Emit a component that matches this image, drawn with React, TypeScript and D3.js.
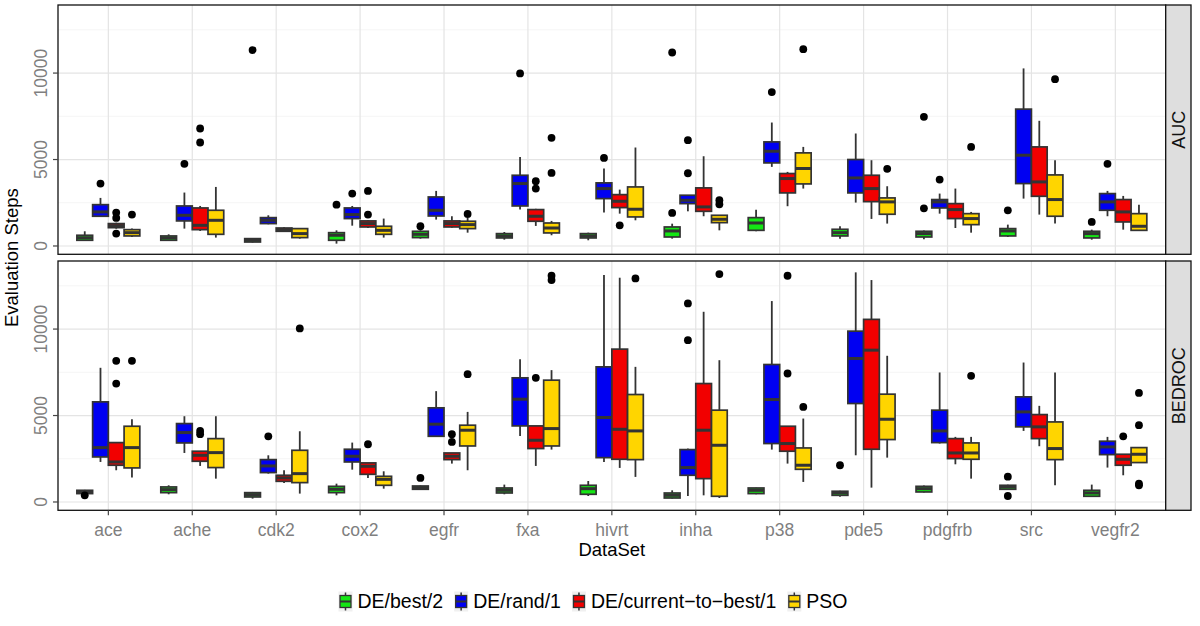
import React, { useRef, useEffect } from 'react';
import * as d3 from 'd3';

const datasets = ['ace', 'ache', 'cdk2', 'cox2', 'egfr', 'fxa', 'hivrt', 'inha', 'p38', 'pde5', 'pdgfrb', 'src', 'vegfr2'];
const methods = ['DE/best/2', 'DE/rand/1', 'DE/current\u2212to\u2212best/1', 'PSO'];
const fills = ['#14e614', '#0000f2', '#f20000', '#ffd500'];
const facets = ['AUC', 'BEDROC'];
const yTicks = [0, 5000, 10000];
const yMinor = [2500, 7500, 12500];

// each row: [lower whisker, q1, median, q3, upper whisker], one row per dataset
const aucBest2 = [
  [300, 330, 475, 620, 850], [290, 330, 465, 580, 675], [200, 230, 330, 425, 460], [135, 330, 620, 770, 905],
  [425, 485, 675, 850, 905], [365, 465, 580, 715, 810], [330, 465, 580, 715, 770], [425, 520, 870, 1100, 1290],
  [850, 905, 1330, 1640, 2100], [425, 580, 770, 965, 1140], [385, 520, 715, 850, 890], [520, 580, 870, 1005, 1235],
  [365, 465, 715, 850, 945],
];
const aucRand1 = [
  [1680, 1720, 1970, 2390, 2780], [1005, 1450, 1775, 2315, 3090], [1255, 1295, 1485, 1640, 1775], [1175, 1585, 1815, 2200, 2315],
  [1525, 1735, 2065, 2835, 3185], [2105, 2315, 3610, 4090, 5150], [1930, 2740, 3320, 3650, 4480], [2005, 2450, 2645, 2935, 2950],
  [4575, 4805, 5480, 6020, 7140], [2510, 3070, 3935, 5000, 6505], [1870, 2200, 2550, 2685, 3030], [2740, 3610, 5250, 7915, 10270],
  [1720, 2065, 2550, 3030, 3185],
];
const aucCtb1 = [
  [1000, 1060, 1175, 1295, 1350], [870, 945, 1195, 2200, 2315], [820, 850, 945, 1040, 1080], [1040, 1100, 1295, 1450, 1485],
  [1060, 1100, 1295, 1450, 1720], [1160, 1430, 1720, 2105, 2150], [1870, 2220, 2585, 2970, 3260], [1720, 2005, 2260, 3360, 5190],
  [2300, 3070, 3900, 4190, 4285], [1565, 2565, 3320, 4090, 4960], [1040, 1585, 2105, 2450, 3320], [1815, 2875, 3705, 5730, 7240],
  [945, 1390, 1970, 2685, 2895],
];
const aucPso = [
  [520, 580, 770, 945, 1005], [485, 675, 1485, 2065, 3415], [425, 485, 715, 1005, 1040], [485, 675, 905, 1140, 1585],
  [770, 1005, 1235, 1430, 1680], [620, 755, 1040, 1330, 1450], [1485, 1680, 2125, 3415, 5695], [905, 1350, 1545, 1775, 1790],
  [3320, 3590, 4480, 5385, 5730], [1295, 1835, 2550, 2780, 3455], [770, 1235, 1585, 1870, 1970], [1295, 1720, 2685, 4110, 4960],
  [905, 905, 1140, 1870, 2390],
];
const bedBest2 = [
  [460, 485, 580, 675, 700], [445, 540, 715, 870, 965], [195, 290, 425, 540, 580], [385, 540, 735, 905, 1060],
  [700, 735, 830, 925, 950], [445, 520, 675, 810, 1005], [345, 445, 770, 965, 1215], [200, 230, 385, 520, 675],
  [450, 485, 675, 810, 830], [300, 385, 520, 620, 650], [550, 580, 770, 905, 950], [700, 735, 870, 965, 1000],
  [300, 330, 520, 675, 1005],
];
const bedRand1 = [
  [2315, 2605, 3145, 5790, 7760], [2835, 3415, 4015, 4535, 4960], [1640, 1700, 2085, 2450, 2700], [1870, 2315, 2645, 3050, 3435],
  [3765, 3800, 4500, 5445, 6410], [3820, 4400, 5945, 7180, 8260], [2315, 2565, 4885, 7815, 13125], [345, 1545, 1990, 3030, 3090],
  [3030, 3380, 5925, 7950, 11620], [2700, 5695, 8300, 9880, 13280], [3380, 3435, 4110, 5310, 7490], [4110, 4345, 5210, 6080, 8065],
  [1990, 2740, 3185, 3515, 3765],
];
const bedCtb1 = [
  [1835, 2125, 2315, 3435, 3435], [2085, 2355, 2700, 2935, 2935], [1100, 1195, 1390, 1545, 1835], [1390, 1600, 2065, 2260, 2260],
  [2220, 2450, 2645, 2835, 2835], [2085, 3090, 3570, 4400, 4400], [1970, 2470, 4205, 8840, 12970], [385, 1350, 4150, 6850, 11000],
  [2220, 2935, 3380, 4380, 4380], [830, 3050, 8780, 10560, 12835], [2180, 2510, 2835, 3665, 3765], [3225, 3665, 4345, 5055, 5560],
  [1545, 2125, 2470, 2760, 2760],
];
const bedPso = [
  [1410, 1970, 3145, 4380, 4785], [1350, 1990, 2855, 3665, 4960], [485, 1120, 1640, 2990, 4090], [770, 965, 1310, 1485, 1775],
  [1835, 3240, 4150, 4440, 5210], [3030, 3240, 4245, 7045, 7625], [1450, 2450, 4110, 6215, 7815], [230, 330, 3280, 5310, 8200],
  [1160, 1890, 2125, 3125, 4825], [2565, 3610, 4785, 6235, 8455], [1350, 2470, 2835, 3415, 3765], [965, 2450, 3090, 4630, 7490],
  [2280, 2280, 2760, 3145, 3145],
];

// outliers, one list per dataset
const aucBest2Out = [[], [], [11330], [2390], [1140], [], [], [11190, 1910], [], [], [7470, 2180], [2065], [1390]];
const aucRand1Out = [[3610], [4750], [], [3030], [], [9980], [5095], [6120, 4205], [8900], [], [3840], [], [4750]];
const aucCtb1Out = [[1930, 1620, 715], [6795, 5985], [], [3185, 1815], [], [3745, 3320], [1195], [], [], [], [], [], []];
const aucPsoOut = [[1815], [], [], [], [1855], [6255, 4225], [], [2645, 2415], [11385], [4460], [5730], [9650], []];
const bedBest2Out = [[385], [], [], [], [1390], [], [], [], [], [2125], [], [1465, 345], []];
const bedRand1Out = [[], [], [3800], [], [], [], [], [11485, 9360], [], [], [], [], []];
const bedCtb1Out = [[8165, 6850], [4110, 3920], [], [3340], [3920, 3475], [7180], [], [], [13085, 7430], [], [], [], [3800]];
const bedPsoOut = [[8165], [], [10035], [], [7390], [13085, 12835], [12930], [13180], [5500], [], [7295], [], [6310, 4440, 1060, 965]];

const App = () => {
  const ref = useRef<SVGSVGElement>(null);

  useEffect(() => {
    if (!ref.current) return;
    const svg = d3.select(ref.current);
    svg.selectAll('*').remove();

    const font = '"Liberation Sans", Arial, Helvetica, sans-serif';
    const left = 58, right = 1165.7, stripW = 25.3, panelH = 249.3;
    const panelTops = [5, 261];
    const stats = [[aucBest2, aucRand1, aucCtb1, aucPso], [bedBest2, bedRand1, bedCtb1, bedPso]];
    const outs = [[aucBest2Out, aucRand1Out, aucCtb1Out, aucPsoOut], [bedBest2Out, bedRand1Out, bedCtb1Out, bedPsoOut]];

    const x = d3.scalePoint<string>().domain(datasets).range([left, right]).padding(0.6);
    const step = x.step();
    const dodge = d3.scaleBand<string>().domain(methods).range([-0.375 * step, 0.375 * step]);
    const bw = dodge.bandwidth();
    const y = d3.scaleLinear().domain([-481, 13937]).range([panelH, 0]);

    facets.forEach((facet, fi) => {
      const g = svg.append('g').attr('transform', `translate(0,${panelTops[fi]})`);

      g.append('rect').attr('x', left).attr('y', 0).attr('width', right - left).attr('height', panelH).attr('fill', '#fff');

      g.selectAll('.minor').data(yMinor).enter().append('line')
        .attr('x1', left).attr('x2', right).attr('y1', d => y(d)).attr('y2', d => y(d))
        .attr('stroke', '#f3f3f3').attr('stroke-width', 0.8);
      g.selectAll('.major').data(yTicks).enter().append('line')
        .attr('x1', left).attr('x2', right).attr('y1', d => y(d)).attr('y2', d => y(d))
        .attr('stroke', '#e4e4e4').attr('stroke-width', 1.2);
      g.selectAll('.vgrid').data(datasets).enter().append('line')
        .attr('x1', d => x(d)!).attr('x2', d => x(d)!).attr('y1', 0).attr('y2', panelH)
        .attr('stroke', '#e4e4e4').attr('stroke-width', 1.2);

      methods.forEach((m, mi) => {
        const rows = stats[fi][mi];
        const boxes = g.append('g').selectAll('g').data(rows).enter().append('g')
          .attr('transform', (_, i) => `translate(${x(datasets[i])! + dodge(m)!},0)`);
        const cx = bw / 2;
        boxes.append('line').attr('x1', cx).attr('x2', cx)
          .attr('y1', d => y(d[3])).attr('y2', d => y(d[4]))
          .attr('stroke', '#333').attr('stroke-width', 1.8);
        boxes.append('line').attr('x1', cx).attr('x2', cx)
          .attr('y1', d => y(d[1])).attr('y2', d => y(d[0]))
          .attr('stroke', '#333').attr('stroke-width', 1.8);
        boxes.append('rect').attr('x', 0).attr('width', bw)
          .attr('y', d => y(d[3])).attr('height', d => Math.max(0, y(d[1]) - y(d[3])))
          .attr('fill', fills[mi]).attr('stroke', '#333').attr('stroke-width', 1.7);
        boxes.append('line').attr('x1', 0).attr('x2', bw)
          .attr('y1', d => y(d[2])).attr('y2', d => y(d[2]))
          .attr('stroke', '#333').attr('stroke-width', 3);

        const pts: { i: number; v: number }[] = [];
        outs[fi][mi].forEach((list, i) => list.forEach(v => pts.push({ i, v })));
        g.append('g').selectAll('circle').data(pts).enter().append('circle')
          .attr('cx', d => x(datasets[d.i])! + dodge(m)! + cx)
          .attr('cy', d => y(d.v)).attr('r', 3.9).attr('fill', '#000');
      });

      g.append('rect').attr('x', left).attr('y', 0).attr('width', right - left).attr('height', panelH)
        .attr('fill', 'none').attr('stroke', '#111').attr('stroke-width', 1.3);

      // y axis
      g.selectAll('.ytick').data(yTicks).enter().append('line')
        .attr('x1', left - 5).attr('x2', left).attr('y1', d => y(d)).attr('y2', d => y(d))
        .attr('stroke', '#444').attr('stroke-width', 1.2);
      g.selectAll('.ylab').data(yTicks).enter().append('text')
        .attr('transform', d => `translate(47,${y(d)}) rotate(-90)`)
        .attr('text-anchor', 'middle').attr('font-family', font).attr('font-size', 17.5)
        .attr('fill', '#7f7f7f').text(d => String(d));

      // strip
      g.append('rect').attr('x', right).attr('y', 0).attr('width', stripW).attr('height', panelH)
        .attr('fill', '#dedede').attr('stroke', '#111').attr('stroke-width', 1.3);
      g.append('text')
        .attr('transform', `translate(${right + stripW / 2 + 6.3},${panelH / 2}) rotate(-90)`)
        .attr('text-anchor', 'middle').attr('font-family', font).attr('font-size', 18)
        .attr('fill', '#111').text(facet);
    });

    // x axis
    const bottom = panelTops[1] + panelH;
    svg.selectAll('.xtick').data(datasets).enter().append('line')
      .attr('x1', d => x(d)!).attr('x2', d => x(d)!).attr('y1', bottom).attr('y2', bottom + 5)
      .attr('stroke', '#444').attr('stroke-width', 1.2);
    svg.selectAll('.xlab').data(datasets).enter().append('text')
      .attr('x', d => x(d)!).attr('y', 536).attr('text-anchor', 'middle')
      .attr('font-family', font).attr('font-size', 17.5).attr('fill', '#7f7f7f').text(d => d);

    svg.append('text').attr('x', (left + right) / 2).attr('y', 556).attr('text-anchor', 'middle')
      .attr('font-family', font).attr('font-size', 18.5).attr('fill', '#000').text('DataSet');
    svg.append('text').attr('transform', `translate(18.3,${(panelTops[0] + bottom) / 2}) rotate(-90)`)
      .attr('text-anchor', 'middle').attr('font-family', font).attr('font-size', 18.5)
      .attr('fill', '#000').text('Evaluation Steps');

    // legend
    const legend = svg.append('g');
    const keyW = 14, keyH = 20, ly = 591.5, gap = 11;
    let cur = 0;
    methods.forEach((m, mi) => {
      const item = legend.append('g').attr('transform', `translate(${cur},0)`);
      item.append('rect').attr('x', 0).attr('y', ly).attr('width', keyW).attr('height', keyH).attr('fill', '#f0f0f0');
      item.append('line').attr('x1', keyW / 2).attr('x2', keyW / 2).attr('y1', ly + 1).attr('y2', ly + keyH - 1)
        .attr('stroke', '#333').attr('stroke-width', 1.5);
      item.append('rect').attr('x', 1.5).attr('y', ly + 4).attr('width', keyW - 3).attr('height', keyH - 8)
        .attr('fill', fills[mi]).attr('stroke', '#333').attr('stroke-width', 1.3);
      item.append('line').attr('x1', 1.5).attr('x2', keyW - 1.5).attr('y1', ly + keyH / 2).attr('y2', ly + keyH / 2)
        .attr('stroke', '#333').attr('stroke-width', 2);
      const t = item.append('text').attr('x', keyW + 5).attr('y', ly + keyH / 2 + 6.8)
        .attr('font-family', font).attr('font-size', 19.5).attr('fill', '#000').text(m);
      const tw = (t.node() as SVGTextElement).getComputedTextLength();
      cur += keyW + 5 + tw + gap;
    });
    const total = cur - gap;
    legend.attr('transform', `translate(${593 - total / 2},0)`);
  }, []);

  return (
    <svg ref={ref} width={1200} height={626}
      style={{ position: 'absolute', left: 0, top: 0, background: '#fff' }} />
  );
};

export default App;
